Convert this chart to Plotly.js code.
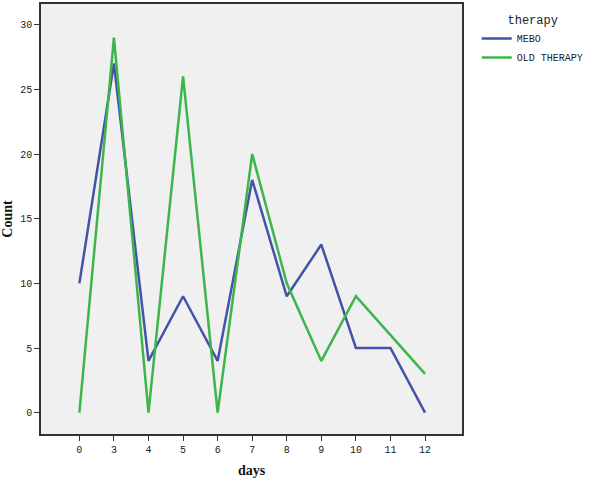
<!DOCTYPE html>
<html>
<head>
<meta charset="utf-8">
<script src="https://cdn.plot.ly/plotly-3.0.1.min.js"></script>
<style>
  html, body { margin: 0; padding: 0; background: #ffffff; }
  #chart { width: 600px; height: 481px; }
</style>
</head>
<body>
<div id="chart"></div>
<script>
const days = ['0', '3', '4', '5', '6', '7', '8', '9', '10', '11', '12'];
const mebo = [10, 27, 4, 9, 4, 18, 9, 13, 5, 5, 0];
const oldTherapy = [0, 29, 0, 26, 0, 20, 10, 4, 9, 6, 3];

const tickFont = { family: 'Liberation Mono, monospace', size: 10, color: '#222222' };

var data = [
  {
    x: days, y: mebo, name: 'MEBO',
    type: 'scatter', mode: 'lines',
    line: { color: '#4452a8', width: 2.5 }
  },
  {
    x: days, y: oldTherapy, name: 'OLD THERAPY',
    type: 'scatter', mode: 'lines',
    line: { color: '#3cb64a', width: 2.5 }
  }
];

var layout = {
  width: 600,
  height: 481,
  paper_bgcolor: '#ffffff',
  plot_bgcolor: '#f0f0f0',
  margin: { l: 41, r: 138, t: 4, b: 47 },
  showlegend: true,
  xaxis: {
    type: 'category',
    range: [-1.11, 11.07],
    showgrid: false,
    zeroline: false,
    showline: true, mirror: true,
    linecolor: '#333333', linewidth: 1.5,
    ticks: 'outside', ticklen: 5, tickcolor: '#333333',
    tickfont: tickFont,
    title: { text: 'days', standoff: 10,
      font: { family: 'Liberation Serif, serif', size: 14, color: '#111111', weight: 'bold' } }
  },
  yaxis: {
    range: [-1.65, 31.6],
    tickvals: [0, 5, 10, 15, 20, 25, 30],
    showgrid: false,
    zeroline: false,
    showline: true, mirror: true,
    linecolor: '#333333', linewidth: 1.5,
    ticks: 'outside', ticklen: 5, tickcolor: '#333333',
    tickfont: tickFont,
    title: { text: 'Count', standoff: 4,
      font: { family: 'Liberation Serif, serif', size: 14, color: '#111111', weight: 'bold' } }
  },
  legend: {
    x: 1.035, xanchor: 'left',
    y: 0.99, yanchor: 'top',
    bgcolor: 'rgba(0,0,0,0)',
    font: { family: 'Liberation Mono, monospace', size: 10, color: '#222222' },
    itemwidth: 30,
    tracegroupgap: 0,
    title: { text: 'therapy', side: 'top center',
      font: { family: 'Liberation Mono, monospace', size: 12, color: '#222222' } }
  }
};

Plotly.newPlot(document.getElementById('chart'), data, layout, { displayModeBar: false });
</script>
</body>
</html>
